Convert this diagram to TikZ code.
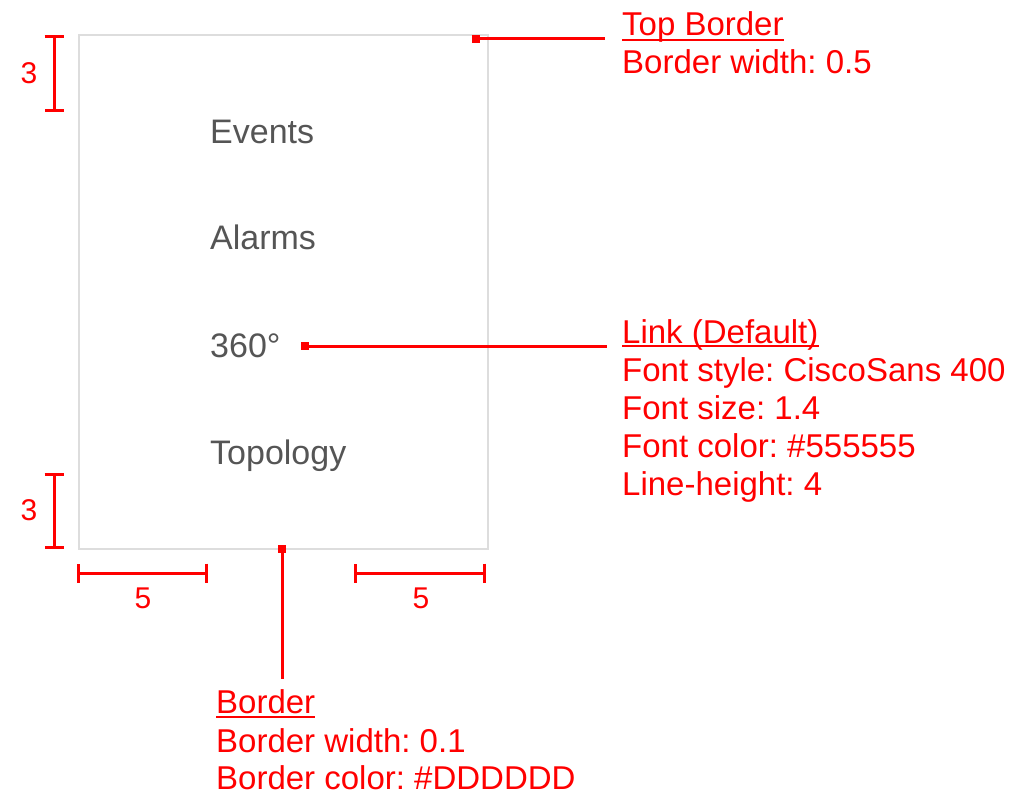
\documentclass[tikz,border=0pt]{standalone}
\usepackage{fontspec}
\setmainfont{Liberation Sans}
\usetikzlibrary{arrows.meta}
\definecolor{annot}{HTML}{FF0000}
\definecolor{bordergray}{HTML}{DDDDDD}
\definecolor{linkgray}{HTML}{555555}
\frenchspacing
\begin{document}
\begin{tikzpicture}[x=1pt,y=-1pt,
  redtxt/.style={anchor=base west, inner sep=0pt, text=annot, font=\fontsize{33}{38}\selectfont},
  linktxt/.style={anchor=base west, inner sep=0pt, text=linkgray, font=\fontsize{34}{40}\selectfont},
  dimline/.style={draw=annot, line width=3pt, {Bar[width=19pt,line width=3pt]}-{Bar[width=19pt,line width=3pt]}},
  leader/.style={draw=annot, line width=3pt},
  uline/.style={draw=annot, line width=2.2pt},
  marker/.style={fill=annot, minimum size=8pt, inner sep=0pt, outer sep=0pt},
  dimlabel/.style={inner sep=0pt, text=annot, font=\fontsize{30}{34}\selectfont}]
\useasboundingbox (0,0) rectangle (1011,802);

% panel
\node[draw=bordergray, line width=2.2pt, minimum width=409pt, minimum height=514pt,
      inner sep=0pt, anchor=north west] (panel) at (78,34) {};

% link texts
\node[linktxt] (events) at (210,144) {Events};
\node[linktxt] (alarms) at (210,250) {Alarms};
\node[linktxt] (deg) at (210,357) {360°};
\node[linktxt] (topo) at (210,464) {Topology};

% dimensions
\coordinate (d1a) at (54,35);  \coordinate (d1b) at (54,112);
\draw[dimline] (d1a) -- (d1b);
\node[dimlabel] (d1l) at (29,73) {3};
\coordinate (d2a) at (54,473); \coordinate (d2b) at (54,549);
\draw[dimline] (d2a) -- (d2b);
\node[dimlabel] (d2l) at (29,510) {3};
\coordinate (d3a) at (77,573); \coordinate (d3b) at (208,573);
\draw[dimline] (d3a) -- (d3b);
\node[dimlabel] (d3l) at (143,598) {5};
\coordinate (d4a) at (354,573); \coordinate (d4b) at (486,573);
\draw[dimline] (d4a) -- (d4b);
\node[dimlabel] (d4l) at (421,598) {5};

% top border annotation
\node[marker] (m1) at (476,39) {};
\coordinate (e1) at (605,39);
\draw[leader] (m1.center) -- (e1);
\node[redtxt] (t1) at (622,36) {Top Border};
\draw[uline] ([yshift=-4pt]t1.base west) -- ([yshift=-4pt]t1.base east);
\node[redtxt] (t1a) at (622,74) {Border width: 0.5};

% link annotation
\node[marker] (m2) at (305,346) {};
\coordinate (e2) at (607,346);
\draw[leader] (m2.center) -- (e2);
\node[redtxt] (t2) at (622,343) {Link (Default)};
\draw[uline] ([yshift=-3pt]t2.base west) -- ([yshift=-3pt]t2.base east);
\node[redtxt] (t2a) at (622,381) {Font style: CiscoSans 400};
\node[redtxt] (t2b) at (622,419) {Font size: 1.4};
\node[redtxt] (t2c) at (622,457) {Font color: \#555555};
\node[redtxt] (t2d) at (622,495) {Line-height: 4};

% border annotation
\node[marker] (m3) at (282,549) {};
\coordinate (e3) at (282,679);
\draw[leader] (m3.center) -- (e3);
\node[redtxt] (t3) at (216,713) {Border};
\draw[uline] ([yshift=-4pt]t3.base west) -- ([yshift=-4pt]t3.base east);
\node[redtxt] (t3a) at (216,752) {Border width: 0.1};
\node[redtxt] (t3b) at (216,789) {Border color: \#DDDDDD};
\end{tikzpicture}
\end{document}
